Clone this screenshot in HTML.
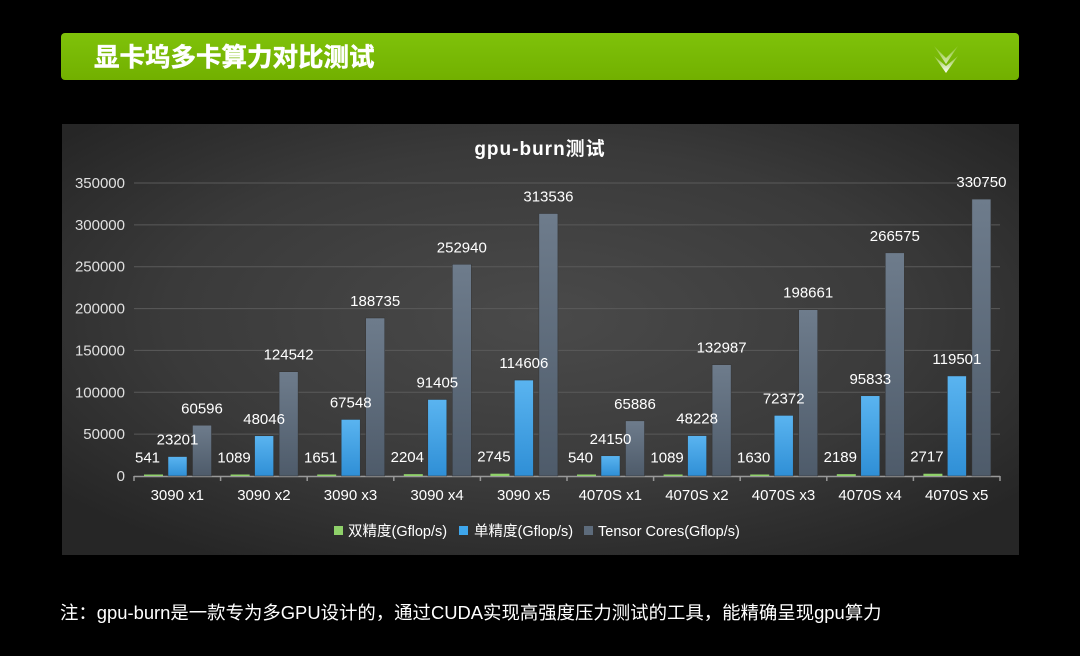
<!DOCTYPE html>
<html><head><meta charset="utf-8"><style>
html,body{margin:0;padding:0;background:#000;width:1080px;height:656px;overflow:hidden}
svg text{font-family:"Liberation Sans","Noto Sans CJK SC",sans-serif}
</style></head><body>
<svg width="1080" height="656" xmlns="http://www.w3.org/2000/svg">
<defs>
<radialGradient id="bg" cx="50%" cy="45%" r="65%">
<stop offset="0" stop-color="#4a4a4a"/><stop offset="0.6" stop-color="#3a3a3a"/><stop offset="1" stop-color="#262626"/>
</radialGradient>
<linearGradient id="hdr" x1="0" y1="0" x2="0" y2="1"><stop offset="0" stop-color="#7fc20a"/><stop offset="1" stop-color="#72b000"/></linearGradient>
<linearGradient id="blue" x1="0" y1="0" x2="0" y2="1"><stop offset="0" stop-color="#5ab4f0"/><stop offset="1" stop-color="#2f8fd6"/></linearGradient>
<linearGradient id="gray" x1="0" y1="0" x2="0" y2="1"><stop offset="0" stop-color="#6e7c8c"/><stop offset="1" stop-color="#4e5b6a"/></linearGradient>
<linearGradient id="chev" x1="0" y1="0" x2="0" y2="1"><stop offset="0" stop-color="#fff" stop-opacity="0.2"/><stop offset="1" stop-color="#fff"/></linearGradient>
</defs>
<rect x="61" y="33" width="958" height="47" rx="4" fill="url(#hdr)"/>
<text x="94" y="66" font-size="25.5" font-weight="bold" fill="#fff" stroke="#fff" stroke-width="0.5">显卡坞多卡算力对比测试</text>
<path d="M934 46 L946 58 L958 46 L946 64 Z" fill="url(#chev)" opacity="0.7"/>
<path d="M934 56 L946 66 L958 56 L946 73 Z" fill="url(#chev)"/>
<rect x="62" y="124" width="957" height="431" fill="url(#bg)"/>
<text x="540" y="155" font-size="19" font-weight="bold" fill="#fff" text-anchor="middle" letter-spacing="1">gpu-burn测试</text>
<g id="plot"></g>
<g id="labels"></g>
<g font-size="14.5" fill="#fff">
<rect x="334" y="526" width="9" height="9" fill="#8fd16a"/><text x="348" y="536">双精度(Gflop/s)</text>
<rect x="459" y="526" width="9" height="9" fill="#3ea6ec"/><text x="474" y="536">单精度(Gflop/s)</text>
<rect x="584" y="526" width="9" height="9" fill="#5d6b7b"/><text x="598" y="536">Tensor Cores(Gflop/s)</text>
</g>
<text x="60" y="619" font-size="18.4" fill="#fff">注：gpu-burn是一款专为多GPU设计的，通过CUDA实现高强度压力测试的工具，能精确呈现gpu算力</text>
</svg>
<script>
var ns="http://www.w3.org/2000/svg",g=document.getElementById('plot'),L=document.getElementById('labels');
function el(t,a,txt,p){var e=document.createElementNS(ns,t);for(var k in a)e.setAttribute(k,a[k]);if(txt!=null)e.textContent=txt;(p||g).appendChild(e);return e;}
var y0=476,sc=293/350000,x0=134,cw=86.6;
for(var v=0;v<=350000;v+=50000){var y=y0-v*sc;
 if(v>0)el('line',{x1:x0,x2:1000,y1:y,y2:y,stroke:'#5a5a5a','stroke-width':1});
 el('text',{x:125,y:y+5,'font-size':15,fill:'#e0e0e0','text-anchor':'end'},String(v));}
el('line',{x1:x0,x2:1000,y1:y0+0.5,y2:y0+0.5,stroke:'#999','stroke-width':1.5});
var cats=['3090 x1','3090 x2','3090 x3','3090 x4','3090 x5','4070S x1','4070S x2','4070S x3','4070S x4','4070S x5'];
var d=[[541,23201,60596],[1089,48046,124542],[1651,67548,188735],[2204,91405,252940],[2745,114606,313536],[540,24150,65886],[1089,48228,132987],[1630,72372,198661],[2189,95833,266575],[2717,119501,330750]];
var fills=['#8fd16a','url(#blue)','url(#gray)'],offs=[10,34,58.5];
for(var i=0;i<=10;i++){var x=x0+i*cw;el('line',{x1:x,x2:x,y1:y0,y2:y0+5,stroke:'#999','stroke-width':1.5});}
for(var i=0;i<10;i++){var gx=x0+i*cw;
 el('text',{x:gx+cw/2,y:500,'font-size':15,fill:'#fff','text-anchor':'middle'},cats[i]);
 for(var j=0;j<3;j++){var h=Math.max(d[i][j]*sc,1.5),bx=gx+offs[j];
  el('rect',{x:bx,y:y0-h,width:19,height:h,fill:fills[j],stroke:j?'#333':'none','stroke-width':0.5});
  el('text',{x:bx+9.5-(j==0?6:0),y:y0-h-12,'font-size':15,fill:'#fff','text-anchor':'middle'},String(d[i][j]),L);}}
</script>
</body></html>
